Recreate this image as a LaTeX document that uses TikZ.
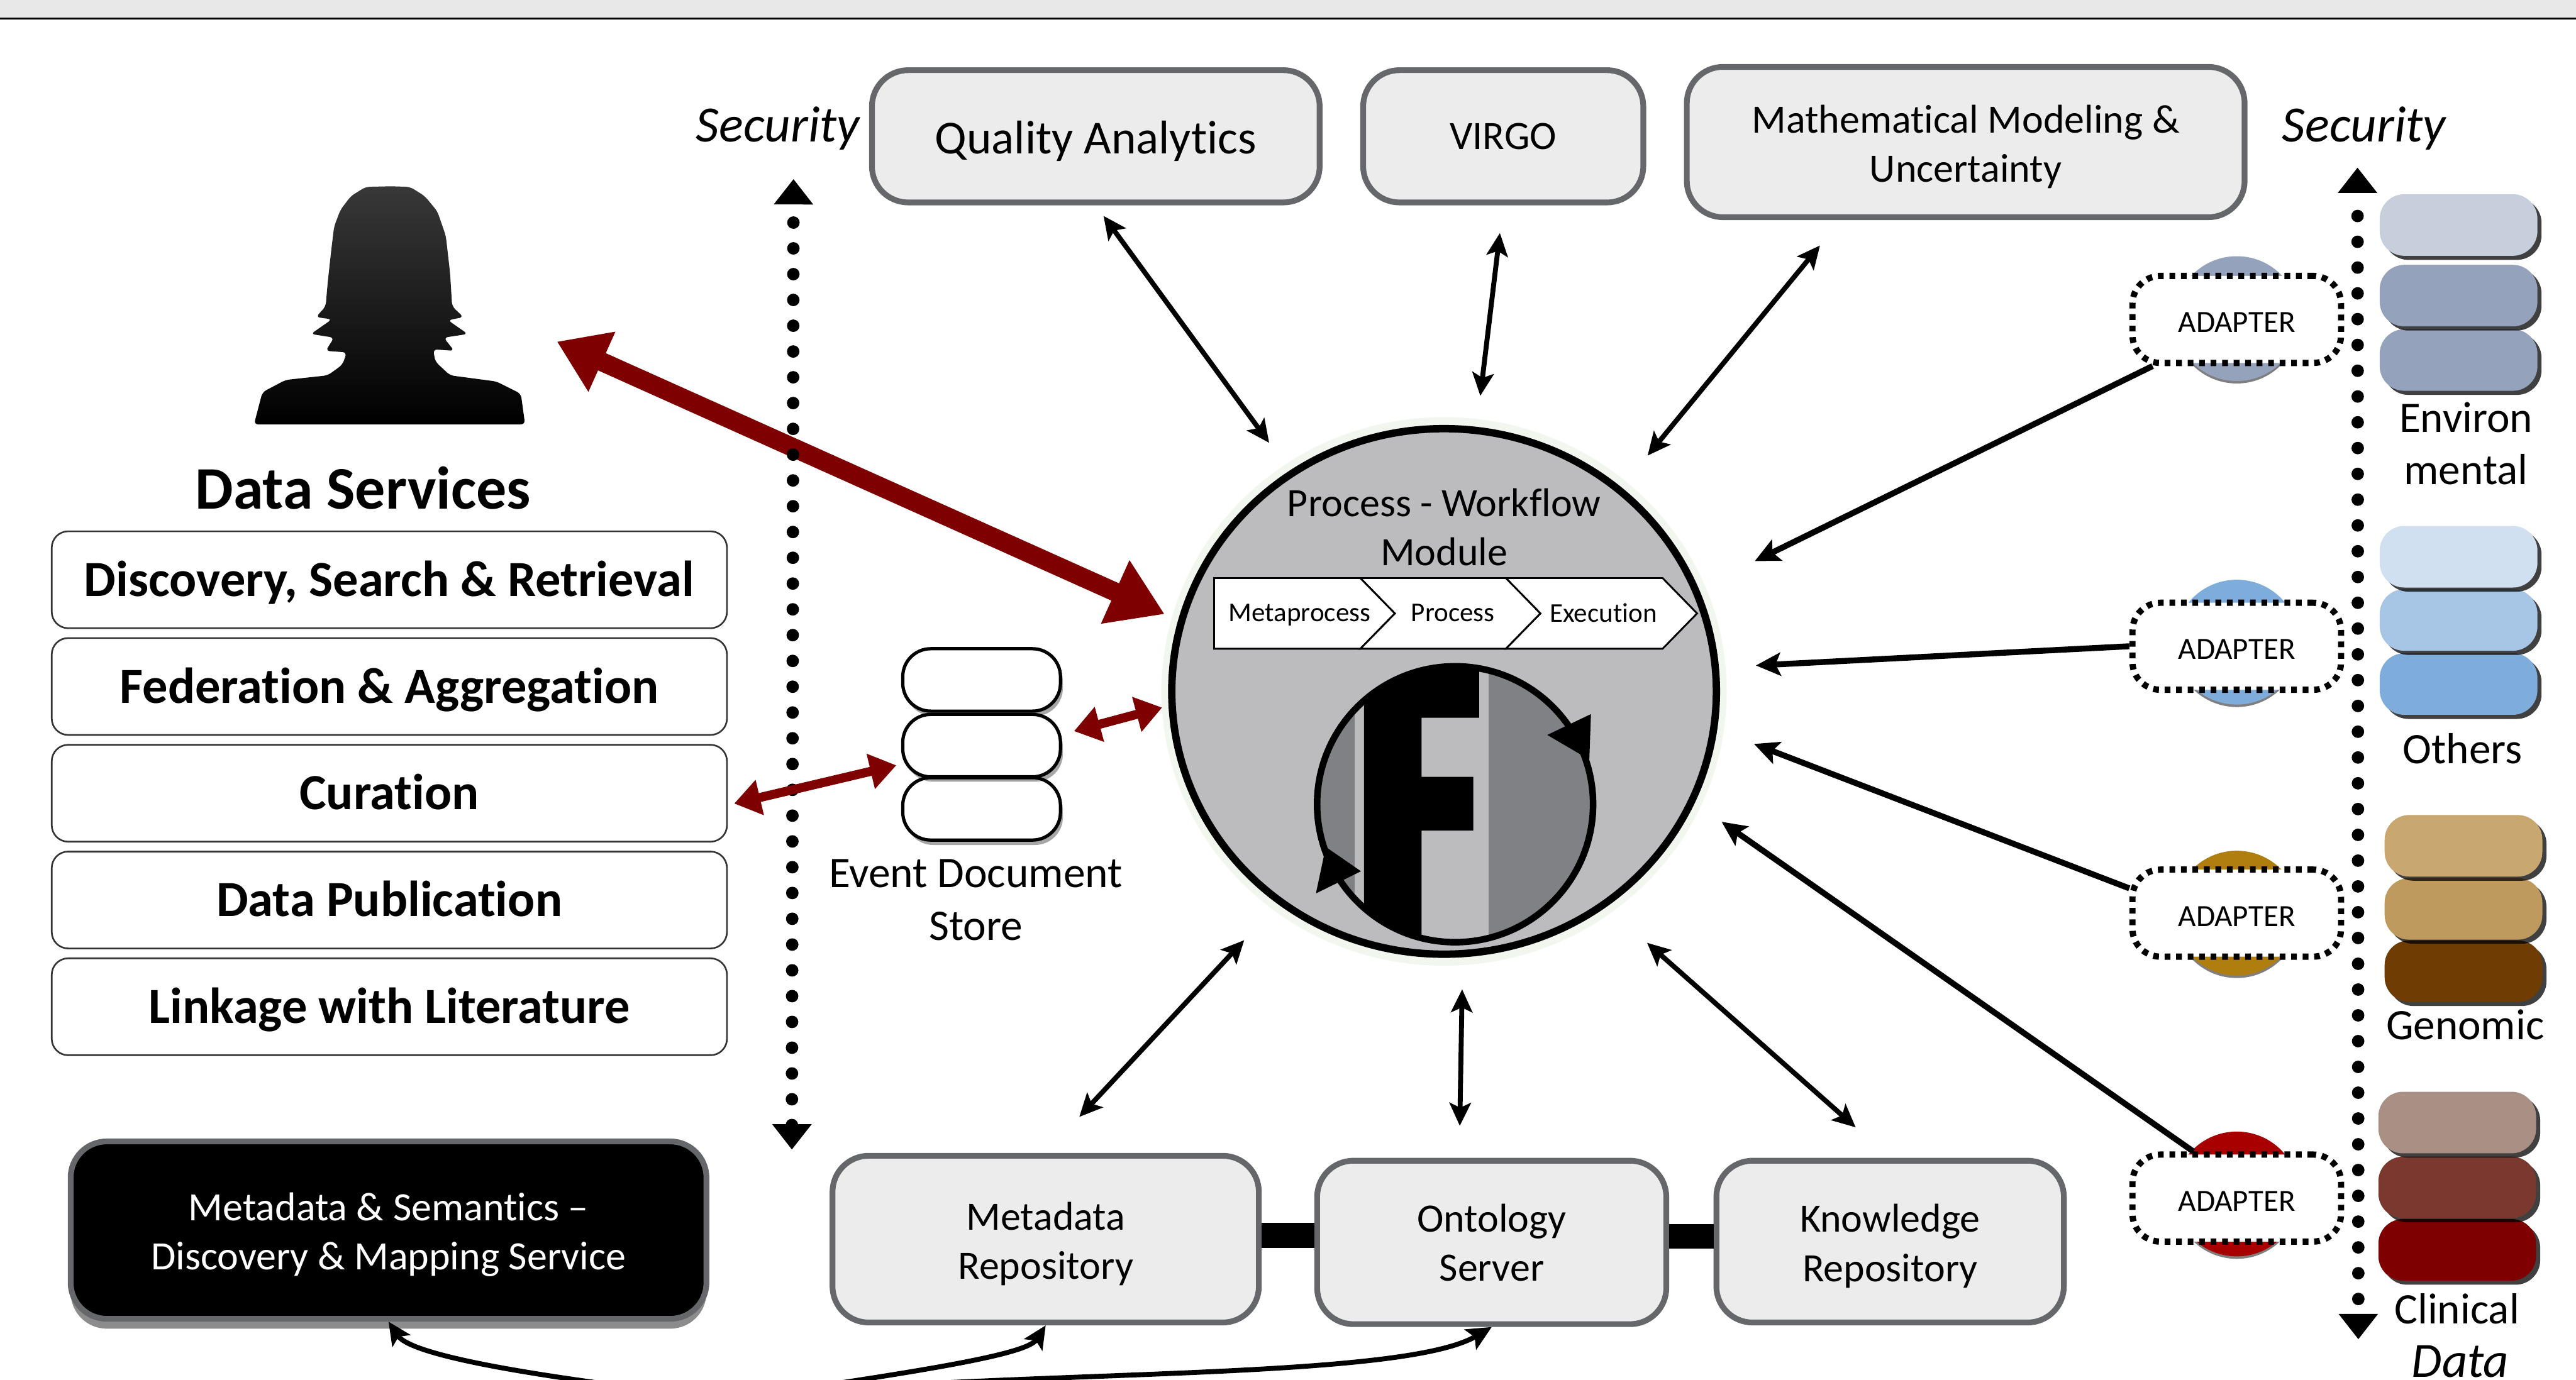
\documentclass[tikz,border=0pt]{standalone}
\usepackage{fontspec}
\setmainfont[Ligatures=NoCommon]{Carlito}
\usetikzlibrary{shapes.geometric,shadows,arrows.meta}
\definecolor{boxfill}{HTML}{ECECEC}
\definecolor{boxline}{HTML}{66676B}
\definecolor{flowgrey}{HTML}{BCBBBD}
\definecolor{bandgrey}{HTML}{808184}
\definecolor{glowgreen}{HTML}{F1F7EE}
\definecolor{darkred}{HTML}{7F0000}
\definecolor{envA}{HTML}{C7CFDC}
\definecolor{envB}{HTML}{94A3BB}
\definecolor{othA}{HTML}{D0E0F0}
\definecolor{othB}{HTML}{A7C6E5}
\definecolor{othC}{HTML}{7EADDB}
\definecolor{genA}{HTML}{C9A770}
\definecolor{genB}{HTML}{BE9A5E}
\definecolor{genC}{HTML}{6F3D04}
\definecolor{genD}{HTML}{B07D0F}
\definecolor{cliA}{HTML}{A98F84}
\definecolor{cliB}{HTML}{7B382E}
\definecolor{cliD}{HTML}{A80000}
\newcommand{\toplift}{\rule{0pt}{22.5pt}}
\begin{document}
\begin{tikzpicture}[x=1pt,y=-1pt]

\tikzset{
	txt/.style 2 args={align=center,inner sep=0,font=\fontsize{#1}{#2}\selectfont},
	greybox/.style={draw=boxline,fill=boxfill,line width=3.5pt,rounded corners=22pt,inner sep=0,align=center,font=\fontsize{24.5}{30}\selectfont},
	listbox/.style={draw=black!80,fill=white,line width=1pt,rounded corners=10pt,inner sep=0,minimum width=411pt,minimum height=59pt,text height=22pt,text depth=2pt,font=\fontsize{30.8}{36}\selectfont\bfseries},
	pill/.style={fill=#1,rounded corners=15pt,inner sep=0,minimum width=96pt,minimum height=37.5pt,drop shadow={shadow xshift=2.5pt,shadow yshift=-2.5pt,opacity=.75,fill=black}},
	store/.style={draw=black,fill=white,line width=2pt,rounded corners=17pt,inner sep=0,minimum width=96pt,minimum height=38pt,drop shadow={shadow xshift=1.5pt,shadow yshift=-3pt,opacity=.35,fill=black}},
	disc/.style={circle,fill=#1,inner sep=0,minimum size=76pt,drop shadow={shadow xshift=0pt,shadow yshift=-1.5pt,opacity=.5,fill=black}},
	adapter/.style={draw=black,fill=white,line width=3.8pt,dash pattern=on 3.5pt off 3.5pt,rounded corners=17pt,inner sep=0,minimum width=127pt,minimum height=53pt,text height=16pt,text depth=0pt,font=\fontsize{18.8}{20}\selectfont},
	chevron/.style={draw=black,fill=white,line width=1.1pt},
	oneway/.style={-{Stealth[length=15pt,width=14pt,inset=3pt]},line width=3.6pt},
	twoway/.style={{Stealth[length=14pt,width=13pt,inset=3pt]}-{Stealth[length=14pt,width=13pt,inset=3pt]},line width=3pt},
	bigred/.style={{Triangle[length=30pt,width=38pt]}-{Triangle[length=33pt,width=40pt]},darkred,line width=11.5pt},
	smallred/.style={{Triangle[length=16pt,width=21pt]}-{Triangle[length=16pt,width=21pt]},darkred,line width=5.5pt},
	dots/.style={{Triangle[length=15.5pt,width=23pt]}-{Triangle[length=15.5pt,width=23pt]},line width=7.6pt,line cap=round,dash pattern=on 0pt off 15.7pt,dash phase=#1},
	link/.style={line width=15pt}
}
	\useasboundingbox (0,0) rectangle (1568,840);
	\fill[white] (0,0) rectangle (1568,840);
	\fill[black!9] (0,0) rectangle (1568,11);
	\draw[black,line width=0.9pt] (0,11.3) -- (1568,11.3);

	%TOP BOXES
	\node[greybox,minimum width=272.5pt,minimum height=80.5pt,font=\fontsize{28.8}{30}\selectfont] (qa) at (667,83) {\rule{0pt}{25.5pt}Quality Analytics};
	\node[greybox,minimum width=170.5pt,minimum height=80.5pt] (virgo) at (915,83) {VIRGO};
	\node[greybox,minimum width=339.5pt,minimum height=91.5pt] (math) at (1196.5,86.5) {\toplift Mathematical Modeling \&\\Uncertainty};

	%BOTTOM BOXES
	\node[greybox,minimum width=259.5pt,minimum height=101.5pt] (metarepo) at (636.5,754.5) {\toplift Metadata\\Repository};
	\node[greybox,minimum width=212.5pt,minimum height=99.5pt] (onto) at (908,756.5) {Ontology\\Server};
	\node[greybox,minimum width=211.5pt,minimum height=98.5pt] (know) at (1150.5,756) {\toplift Knowledge\\Repository};
	\draw[link] (metarepo.1) -- (metarepo.1 -| onto.west);
	\draw[link] (onto.2) -- (onto.2 -| know.west);
	\node[greybox,fill=black,text=white,minimum width=387pt,minimum height=108pt,drop shadow={shadow xshift=0pt,shadow yshift=-6pt,opacity=.45,fill=black}] (meta) at (236.5,749) {\toplift Metadata \& Semantics --\\Discovery \& Mapping Service};

	%PERSON
	\begin{scope}[shift={(109.7,91.4)},xscale=0.2566,yscale=0.1866]
		\shade[top color=black!78,bottom color=black,rounded corners=2.5pt] (500,118) -- (440,120) -- (405,150) -- (380,195) -- (365,250) -- (358,330) -- (350,430) -- (345,510) -- (322,545) -- (360,552) -- (310,600) -- (365,612) -- (345,655) -- (395,660) -- (385,700) -- (350,735) -- (250,750) -- (195,790) -- (175,895) -- (818,895) -- (808,795) -- (750,755) -- (640,735) -- (605,690) -- (600,650) -- (650,655) -- (625,612) -- (682,600) -- (635,555) -- (672,545) -- (645,510) -- (640,400) -- (630,280) -- (610,200) -- (580,150) -- (545,120) -- cycle;
	\end{scope}
	\coordinate (personend) at (339,208);

	%DATA SERVICES
	\node[inner sep=0,font=\fontsize{36.8}{40}\selectfont\bfseries] (services) at (221,297) {Data Services};
	\node[listbox] (discovery) at (237,353) {Discovery, Search \& Retrieval};
	\node[listbox] (federation) at (237,418) {Federation \& Aggregation};
	\node[listbox] (curation) at (237,483) {Curation};
	\node[listbox] (publication) at (237,548) {Data Publication};
	\node[listbox] (linkage) at (237,613) {Linkage with Literature};

	%WORKFLOW MODULE
	\fill[glowgreen] (879,421) ellipse [x radius=172,y radius=167];
	\node[ellipse,draw=black,fill=flowgrey,line width=4.5pt,inner sep=0,minimum width=331.5pt,minimum height=320pt] (flow) at (879,421) {};
	\node[txt={24.5}{30}] (flowtext) at (879,321) {Process - Workflow\\Module};
	\draw[chevron] (916.6,352) -- (1012,352) -- (1033,373.5) -- (1012,395) -- (916.6,395) -- (937.6,373.5) -- cycle;
	\draw[chevron] (828,352) -- (916.6,352) -- (937.6,373.5) -- (916.6,395) -- (828,395) -- (849,373.5) -- cycle;
	\draw[chevron] (739,352) -- (828,352) -- (849,373.5) -- (828,395) -- (739,395) -- cycle;
	\node[txt={16.5}{20}] (metaproc) at (791,374.5) {Metaprocess};
	\node[txt={16.5}{20}] (proc) at (884.4,373) {Process};
	\node[txt={16.5}{20}] (exec) at (976,373) {Execution};
	\begin{scope}
		\clip (885.7,489.7) circle [radius=84];
		\fill[bandgrey] (790,400) rectangle (824.5,580);
		\fill[bandgrey] (906,400) rectangle (980,580);
		\fill[black] (830.3,395) -- (900.3,395) -- (900.3,437) -- (865.3,437) -- (865.3,473) -- (896.8,473) -- (896.8,505.7) -- (865.3,505.7) -- (865.3,580) -- (830.3,580) -- cycle;
	\end{scope}
	\node[circle,draw=black,line width=4pt,inner sep=0,minimum size=168pt] (loop) at (885.7,489.7) {};
	\fill[black] (941.8,447.5) -- (968.4,434.8) -- (967.4,462.5) -- cycle;
	\fill[black] (828.4,530.5) -- (807,515.7) -- (801,544) -- cycle;

	%EVENT STORE
	\node[store] (evta) at (597.5,414) {};
	\node[store] (evtc) at (597.5,492.5) {};
	\node[store] (evtb) at (597.5,454) {};
	\node[txt={26.6}{32}] (evttext) at (594,548) {Event Document\\Store};

	%SECURITY
	\draw[bigred,shorten >=9pt] (personend) -- (flow.165.6);
	\node[inner sep=0,font=\fontsize{31}{32}\selectfont\itshape] (secleft) at (473.5,78) {Security};
	\node[inner sep=0,font=\fontsize{31}{32}\selectfont\itshape] (secright) at (1439,78) {Security};
	\coordinate (dotsltop) at (483,109);
	\coordinate (dotslbot) at (482,700);
	\coordinate (dotsrtop) at (1435,102);
	\coordinate (dotsrbot) at (1435.5,815.5);
	\draw[dots=3.7] (dotsltop) -- (dotslbot);
	\draw[dots=0.7] (dotsrtop) -- (dotsrbot);
	\draw[smallred,shorten <=4pt,shorten >=3pt] (curation.358) -- (evtb.193);
	\draw[smallred,shorten <=7.5pt,shorten >=4pt] (evtb.8) -- (flow.183);

	%DATA SOURCES
	\node[pill=envB] (envc) at (1496.5,219.2) {};
	\node[pill=envB] (envb) at (1496.5,180) {};
	\node[pill=envA] (enva) at (1496.5,137) {};
	\node[pill=othC] (othc) at (1496.5,416.5) {};
	\node[pill=othB] (othb) at (1496.5,377.5) {};
	\node[pill=othA] (otha) at (1496.5,339) {};
	\node[pill=genC] (genc) at (1499.5,591.3) {};
	\node[pill=genB] (genb) at (1499.5,553.4) {};
	\node[pill=genA] (gena) at (1499.5,515) {};
	\node[pill=darkred] (clic) at (1495.7,761) {};
	\node[pill=cliB] (clib) at (1495.7,723) {};
	\node[pill=cliA] (clia) at (1495.7,683.5) {};
	\node[txt={26.5}{32}] (envtext) at (1501,270) {Environ\\mental};
	\node[txt={26.5}{32}] (othtext) at (1499,456) {Others};
	\node[txt={26.5}{32}] (gentext) at (1500.5,624) {Genomic};
	\node[txt={26.5}{32}] (clitext) at (1495.5,797) {Clinical};
	\node[anchor=base,inner sep=0,font=\fontsize{30}{32}\selectfont\itshape] (datatext) at (1497.5,838.5) {Data};

	%ADAPTERS
	\node[disc=envB] (disca) at (1361.5,194) {};
	\node[disc=othC] (discb) at (1361.5,391) {};
	\node[disc=genD] (discc) at (1361.5,556) {};
	\node[disc=cliD] (discd) at (1361.5,727) {};
	\node[adapter] (adpa) at (1361.5,194.5) {ADAPTER};
	\node[adapter] (adpb) at (1361.5,393.5) {ADAPTER};
	\node[adapter] (adpc) at (1361.5,556) {ADAPTER};
	\node[adapter] (adpd) at (1361.5,729.5) {ADAPTER};

	%CONNECTORS
	\draw[twoway,shorten <=8pt,shorten >=21pt] (qa.south) -- (flow.125);
	\draw[twoway,shorten <=17pt,shorten >=19pt] (virgo.south) -- (flow.83);
	\draw[twoway,shorten <=20pt,shorten >=25pt] (math.212) -- (flow.49);
	\draw[oneway,shorten >=38pt] (adpa.209) -- (flow.22.6);
	\draw[oneway,shorten >=22.5pt] (adpb.west) -- (flow.5.7);
	\draw[oneway,shorten >=24pt] (adpc.167) -- (flow.352);
	\draw[oneway,shorten >=20pt] (adpd.133) -- (flow.336);
	\draw[twoway,shorten <=30pt,shorten >=30pt] (flow.232) -- (metarepo.north);
	\draw[twoway,shorten <=19.5pt,shorten >=19.5pt] (flow.274) -- (onto.111);
	\draw[twoway,shorten <=33pt,shorten >=28pt] (flow.307.5) -- (know.north);

	%CURVES BELOW
	\coordinate (hub) at (445,852);
	\draw[twoway,line width=3pt] (meta.south) .. controls (250,825) and (320,838) .. (hub) .. controls (560,835) and (625,825) .. (metarepo.south);
	\draw[oneway,line width=3pt] (hub) .. controls (600,833) and (850,842) .. (onto.south);
\end{tikzpicture}
\end{document}
